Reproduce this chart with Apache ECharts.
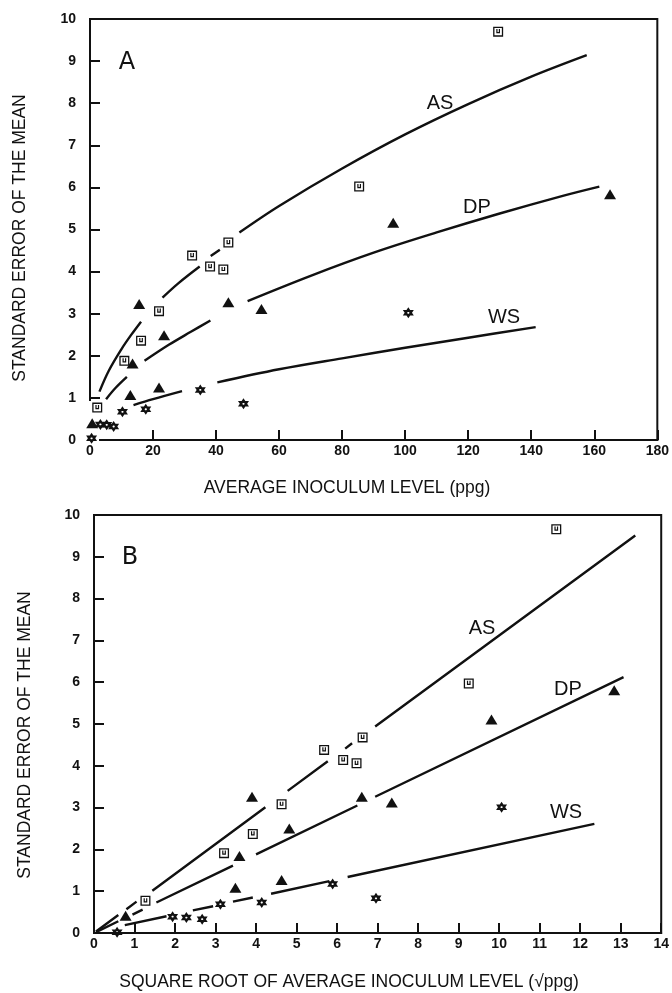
<!DOCTYPE html>
<html>
<head>
<meta charset="utf-8">
<script src="https://cdn.jsdelivr.net/npm/echarts@6/dist/echarts.min.js"></script>
<style>html,body{margin:0;padding:0;background:#fff}#c{width:672px;height:993px}</style>
</head>
<body>
<div id="c"></div>
<script>
// ---- Panel A data: average inoculum level (ppg) vs standard error ----
const asA = [[2.3,0.77],[10.9,1.88],[16.2,2.36],[21.9,3.06],[32.4,4.38],[38.1,4.12],[42.3,4.05],[43.9,4.69],[85.4,6.02],[129.5,9.70]];
const dpA = [[0.7,0.40],[12.8,1.07],[13.5,1.82],[15.6,3.23],[21.9,1.25],[23.5,2.49],[43.9,3.27],[54.4,3.11],[96.2,5.16],[165,5.84]];
const wsA = [[0.5,0.04],[3.3,0.37],[5.3,0.36],[7.5,0.32],[10.3,0.67],[17.7,0.73],[35.0,1.19],[48.7,0.86],[101,3.02]];
// fitted curves (null = gap in the drawn line)
const asFitA = [[3,1.15],[6,1.65],[10,2.16],[13,2.49],[16.2,2.81],null,[23,3.38],[28,3.72],[34.8,4.12],null,[38.3,4.37],[41.2,4.52],null,[47.4,4.93],[60,5.56],[80,6.45],[100,7.26],[120,7.98],[140,8.63],[157.6,9.14]];
const dpFitA = [[5.1,0.97],[8,1.23],[11.7,1.5],null,[17.3,1.88],[25,2.26],[32,2.57],[38.2,2.84],null,[50,3.3],[70,3.9],[90,4.45],[110,4.93],[130,5.38],[150,5.8],[161.6,6.02]];
const wsFitA = [[13.8,0.83],[20,0.97],[29.2,1.16],null,[40.4,1.37],[60,1.68],[80,1.94],[100,2.19],[120,2.43],[141.4,2.68]];

// ---- Panel B data: square root of average inoculum level vs standard error ----
const asB = [[1.27,0.77],[3.21,1.91],[3.92,2.37],[4.63,3.08],[5.68,4.38],[6.15,4.14],[6.48,4.06],[6.63,4.68],[9.25,5.97],[11.41,9.66]];
const dpB = [[0.78,0.41],[3.49,1.08],[3.59,1.84],[3.90,3.26],[4.63,1.27],[4.82,2.50],[6.61,3.26],[7.35,3.12],[9.81,5.11],[12.84,5.81]];
const wsB = [[0.57,0.02],[1.94,0.39],[2.28,0.37],[2.67,0.33],[3.12,0.69],[4.14,0.73],[5.89,1.17],[6.96,0.83],[10.06,3.01]];
const asFitB = [[0.05,0.035],[0.6,0.43],null,[0.8,0.57],[1.05,0.75],null,[1.44,1.01],[4.23,3.01],null,[4.78,3.4],[5.77,4.11],null,[6.2,4.41],[6.37,4.54],null,[6.94,4.94],[13.36,9.51]];
const dpFitB = [[0.05,0.02],[0.6,0.28],null,[0.95,0.44],[1.2,0.56],null,[1.54,0.73],[3.43,1.61],null,[4.0,1.88],[6.5,3.05],null,[6.94,3.26],[13.07,6.12]];
const wsFitB = [[0.76,0.19],[1.79,0.4],null,[2.44,0.54],[2.94,0.64],null,[3.43,0.75],[3.92,0.85],null,[4.37,0.94],[5.81,1.24],null,[6.26,1.34],[12.35,2.61]];

const xRangeA = {min:0, max:180, interval:20};
const xRangeB = {min:0, max:14, interval:1};
const yRange = {min:0, max:10, interval:1};

const seriesNames = ['AS','DP','WS'];
const xTitleA = 'AVERAGE INOCULUM LEVEL (ppg)';
const xTitleB = 'SQUARE ROOT OF AVERAGE INOCULUM LEVEL (\u221Appg)';
const yTitle = 'STANDARD ERROR OF THE MEAN';

const INK = '#111';
const boxSym = 'path://M0 0H20V20H0Z M2.6 2.6V17.4H17.4V2.6Z M6.3 4.8H8.7V13.2H6.3Z M11.3 4.8H13.7V13.2H11.3Z M6.3 10.8H13.7V13.2H6.3Z';
const starSym = 'path://M10 0L12.89 5L18.66 5L15.77 10L18.66 15L12.89 15L10 20L7.11 15L1.34 15L4.23 10L1.34 5L7.11 5Z M11.9 10L10.95 8.35L9.05 8.35L8.1 10L9.05 11.65L10.95 11.65Z';

const gapify = arr => arr.map(p => p === null ? ['-','-'] : p);

function axisCommon(range){
  return Object.assign({
    type:'value',
    axisLine:{show:true, onZero:false, lineStyle:{color:INK, width:2}},
    axisTick:{show:true, inside:true, length:10, lineStyle:{color:INK, width:2}},
    splitLine:{show:false},
    axisLabel:{color:INK, fontSize:14, fontWeight:'bold', fontFamily:"'Liberation Sans', Arial, sans-serif"}
  }, range);
}

const xA = axisCommon(xRangeA); xA.gridIndex = 0; xA.axisLabel = Object.assign({}, xA.axisLabel, {margin:4});
const xB = axisCommon(xRangeB); xB.gridIndex = 1; xB.axisLabel = Object.assign({}, xB.axisLabel, {margin:4});
const yA = axisCommon(yRange); yA.gridIndex = 0; yA.axisLabel = Object.assign({}, yA.axisLabel, {margin:14});
const yB = axisCommon(yRange); yB.gridIndex = 1; yB.axisLabel = Object.assign({}, yB.axisLabel, {margin:14});

function lineSeries(data, idx){
  return {type:'line', xAxisIndex:idx, yAxisIndex:idx, data:gapify(data), showSymbol:false, smooth:idx===0 ? 0.35 : false,
    connectNulls:false, lineStyle:{color:INK, width:2.4}, z:2, silent:true};
}
function scatterSeries(name, data, idx){
  const sym = name==='AS' ? {symbol:boxSym, symbolSize:10} : name==='DP' ? {symbol:'triangle', symbolSize:[12,10]} : {symbol:starSym, symbolSize:11};
  return Object.assign({type:'scatter', name:name, xAxisIndex:idx, yAxisIndex:idx, data:data, itemStyle:{color:INK, opacity:1}, z:3, silent:true}, sym);
}

const labelFont = "20px 'Liberation Sans Narrow', 'Liberation Sans', Arial, sans-serif";
const titleFont = "17.5px 'Liberation Sans', Arial, sans-serif";
function txt(text, x, y, font, rot){
  const o = {type:'text', x:x, y:y, silent:true, z:5, style:{text:text, font:font, fill:INK, align:'center', verticalAlign:'middle'}};
  if (rot) o.rotation = rot;
  return o;
}

const option = {
  animation:false,
  backgroundColor:'#fff',
  grid:[
    {left:90, top:19, width:571, height:421, show:true, borderColor:INK, borderWidth:2, backgroundColor:'transparent'},
    {left:94, top:515, width:569, height:418, show:true, borderColor:INK, borderWidth:2, backgroundColor:'transparent'}
  ],
  xAxis:[xA, xB],
  yAxis:[yA, yB],
  series:[
    lineSeries(asFitA,0), lineSeries(dpFitA,0), lineSeries(wsFitA,0),
    scatterSeries('AS',asA,0), scatterSeries('DP',dpA,0), scatterSeries('WS',wsA,0),
    lineSeries(asFitB,1), lineSeries(dpFitB,1), lineSeries(wsFitB,1),
    scatterSeries('AS',asB,1), scatterSeries('DP',dpB,1), scatterSeries('WS',wsB,1)
  ],
  graphic:[
    {type:'rect', shape:{x:86, y:401, width:13, height:42}, style:{fill:'#fff'}, z:1, silent:true},
    txt('A', 127, 63, "24px 'DejaVu Sans', sans-serif"),
    txt('B', 130, 558, "24px 'DejaVu Sans', sans-serif"),
    txt(seriesNames[0], 440, 103, labelFont),
    txt(seriesNames[1], 477, 207, labelFont),
    txt(seriesNames[2], 504, 317, labelFont),
    txt(seriesNames[0], 482, 628, labelFont),
    txt(seriesNames[1], 568, 689, labelFont),
    txt(seriesNames[2], 566, 812, labelFont),
    txt(xTitleA, 347, 488, titleFont),
    txt(xTitleB, 349, 982, titleFont),
    txt(yTitle, 20, 238, titleFont, Math.PI/2),
    txt(yTitle, 25, 735, titleFont, Math.PI/2)
  ]
};

const chart = echarts.init(document.getElementById('c'), null, {renderer:'canvas'});
chart.setOption(option);
</script>
</body>
</html>
